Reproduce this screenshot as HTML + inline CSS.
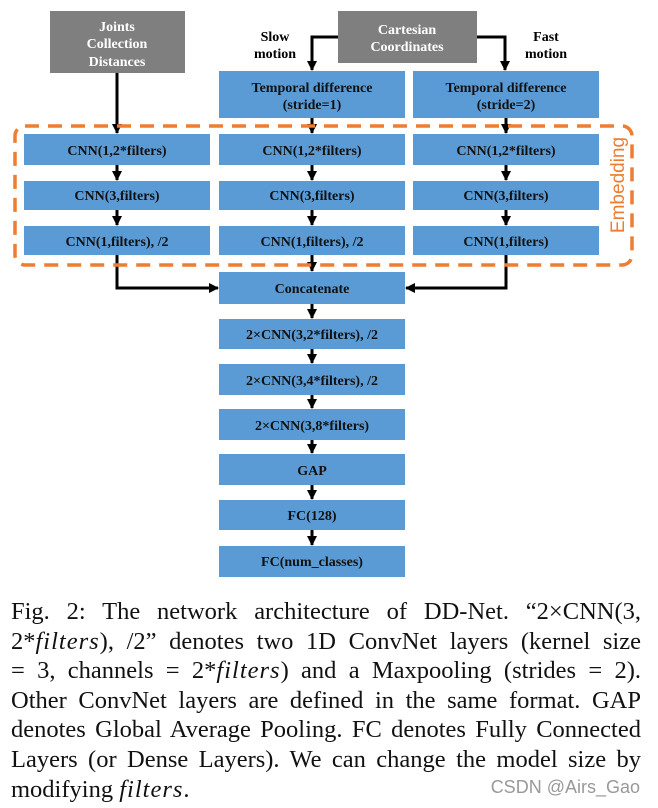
<!DOCTYPE html>
<html><head><meta charset="utf-8"><style>
body{margin:0;background:#fff;width:658px;height:808px;overflow:hidden;position:relative}
svg{position:absolute;left:0;top:0}
.cap{position:absolute;left:11px;top:597px;width:630px;font-family:"Liberation Serif",serif;font-size:24.5px;line-height:29.6px;color:#111}
.cap div{text-align:justify;text-align-last:justify;white-space:nowrap}
.cap i{font-style:italic;letter-spacing:1px}
.wm{position:absolute;left:478px;top:777px;width:162px;text-align:right;font-family:"Liberation Sans",sans-serif;font-size:18px;color:#999}
</style></head><body>
<svg width="658" height="600" font-family="Liberation Serif,serif" font-weight="bold">
<defs><marker id="a" markerWidth="10" markerHeight="10" refX="9" refY="5" orient="auto" markerUnits="userSpaceOnUse"><path d="M0,0L10,5L0,10z" fill="#000"/></marker></defs>
<g fill="#7f7f7f">
<rect x="50" y="11" width="135" height="62"/>
<rect x="338" y="11" width="139" height="52"/>
</g>
<g fill="#fff" font-size="14" text-anchor="middle">
<text x="117" y="31">Joints</text><text x="117" y="48">Collection</text><text x="117" y="66">Distances</text>
<text x="407" y="34">Cartesian</text><text x="407" y="51">Coordinates</text>
</g>
<g font-size="14" text-anchor="middle" fill="#000">
<text x="275" y="41">Slow</text><text x="275" y="58">motion</text>
<text x="546" y="41">Fast</text><text x="546" y="58">motion</text>
</g>
<g fill="#5b9bd5">
<rect x="219" y="71" width="186" height="47"/><rect x="413" y="71" width="186" height="47"/>
<rect x="24" y="134" width="186" height="31"/><rect x="219" y="134" width="186" height="31"/><rect x="413" y="134" width="186" height="31"/>
<rect x="24" y="181" width="186" height="29"/><rect x="219" y="181" width="186" height="29"/><rect x="413" y="181" width="186" height="29"/>
<rect x="24" y="226" width="186" height="29"/><rect x="219" y="226" width="186" height="29"/><rect x="413" y="226" width="186" height="29"/>
<rect x="219" y="272" width="186" height="32"/>
<rect x="219" y="319" width="186" height="30"/>
<rect x="219" y="364" width="186" height="31"/>
<rect x="219" y="409" width="186" height="31"/>
<rect x="219" y="454" width="186" height="31"/>
<rect x="219" y="500" width="186" height="30"/>
<rect x="219" y="546" width="186" height="31"/>
</g>
<g font-size="14" text-anchor="middle" fill="#111">
<text x="312" y="92">Temporal difference</text><text x="312" y="109">(stride=1)</text>
<text x="506" y="92">Temporal difference</text><text x="506" y="109">(stride=2)</text>
<text x="117" y="155">CNN(1,2*filters)</text><text x="312" y="155">CNN(1,2*filters)</text><text x="506" y="155">CNN(1,2*filters)</text>
<text x="117" y="200">CNN(3,filters)</text><text x="312" y="200">CNN(3,filters)</text><text x="506" y="200">CNN(3,filters)</text>
<text x="117" y="246">CNN(1,filters), /2</text><text x="312" y="246">CNN(1,filters), /2</text><text x="506" y="246">CNN(1,filters)</text>
<text x="312" y="293">Concatenate</text>
<text x="312" y="339">2×CNN(3,2*filters), /2</text>
<text x="312" y="385">2×CNN(3,4*filters), /2</text>
<text x="312" y="430">2×CNN(3,8*filters)</text>
<text x="312" y="475">GAP</text>
<text x="312" y="520">FC(128)</text>
<text x="312" y="566">FC(num_classes)</text>
</g>
<g stroke="#000" stroke-width="3" fill="none" marker-end="url(#a)">
<path d="M338,37H312V70"/><path d="M477,37H505V70"/>
<path d="M117,73V133"/><path d="M312,118V133"/><path d="M506,118V133"/>
<path d="M117,165V180"/><path d="M312,165V180"/><path d="M506,165V180"/>
<path d="M117,210V225"/><path d="M312,210V225"/><path d="M506,210V225"/>
<path d="M117,255V288H218"/><path d="M506,255V288H406"/><path d="M312,255V271"/>
<path d="M312,304V318"/><path d="M312,349V363"/><path d="M312,395V408"/><path d="M312,440V453"/><path d="M312,485V499"/><path d="M312,530V545"/>
</g>
<rect x="15" y="126" width="617" height="139" rx="10" fill="none" stroke="#ed7d31" stroke-width="3.5" stroke-dasharray="14,9"/>
<text transform="translate(624,185) rotate(-90)" text-anchor="middle" font-family="Liberation Sans,sans-serif" font-size="19" font-weight="normal" fill="#ed7d31">Embedding</text>
</svg>
<div class="cap">
<div>Fig. 2: The network architecture of DD-Net. “2×CNN(3,</div>
<div>2*<i>filters</i>), /2” denotes two 1D ConvNet layers (kernel size</div>
<div>= 3, channels = 2*<i>filters</i>) and a Maxpooling (strides = 2).</div>
<div>Other ConvNet layers are defined in the same format. GAP</div>
<div>denotes Global Average Pooling. FC denotes Fully Connected</div>
<div>Layers (or Dense Layers). We can change the model size by</div>
<div style="text-align-last:left">modifying <i>filters</i>.</div>
</div>
<div class="wm">CSDN @Airs_Gao</div>
</body></html>
